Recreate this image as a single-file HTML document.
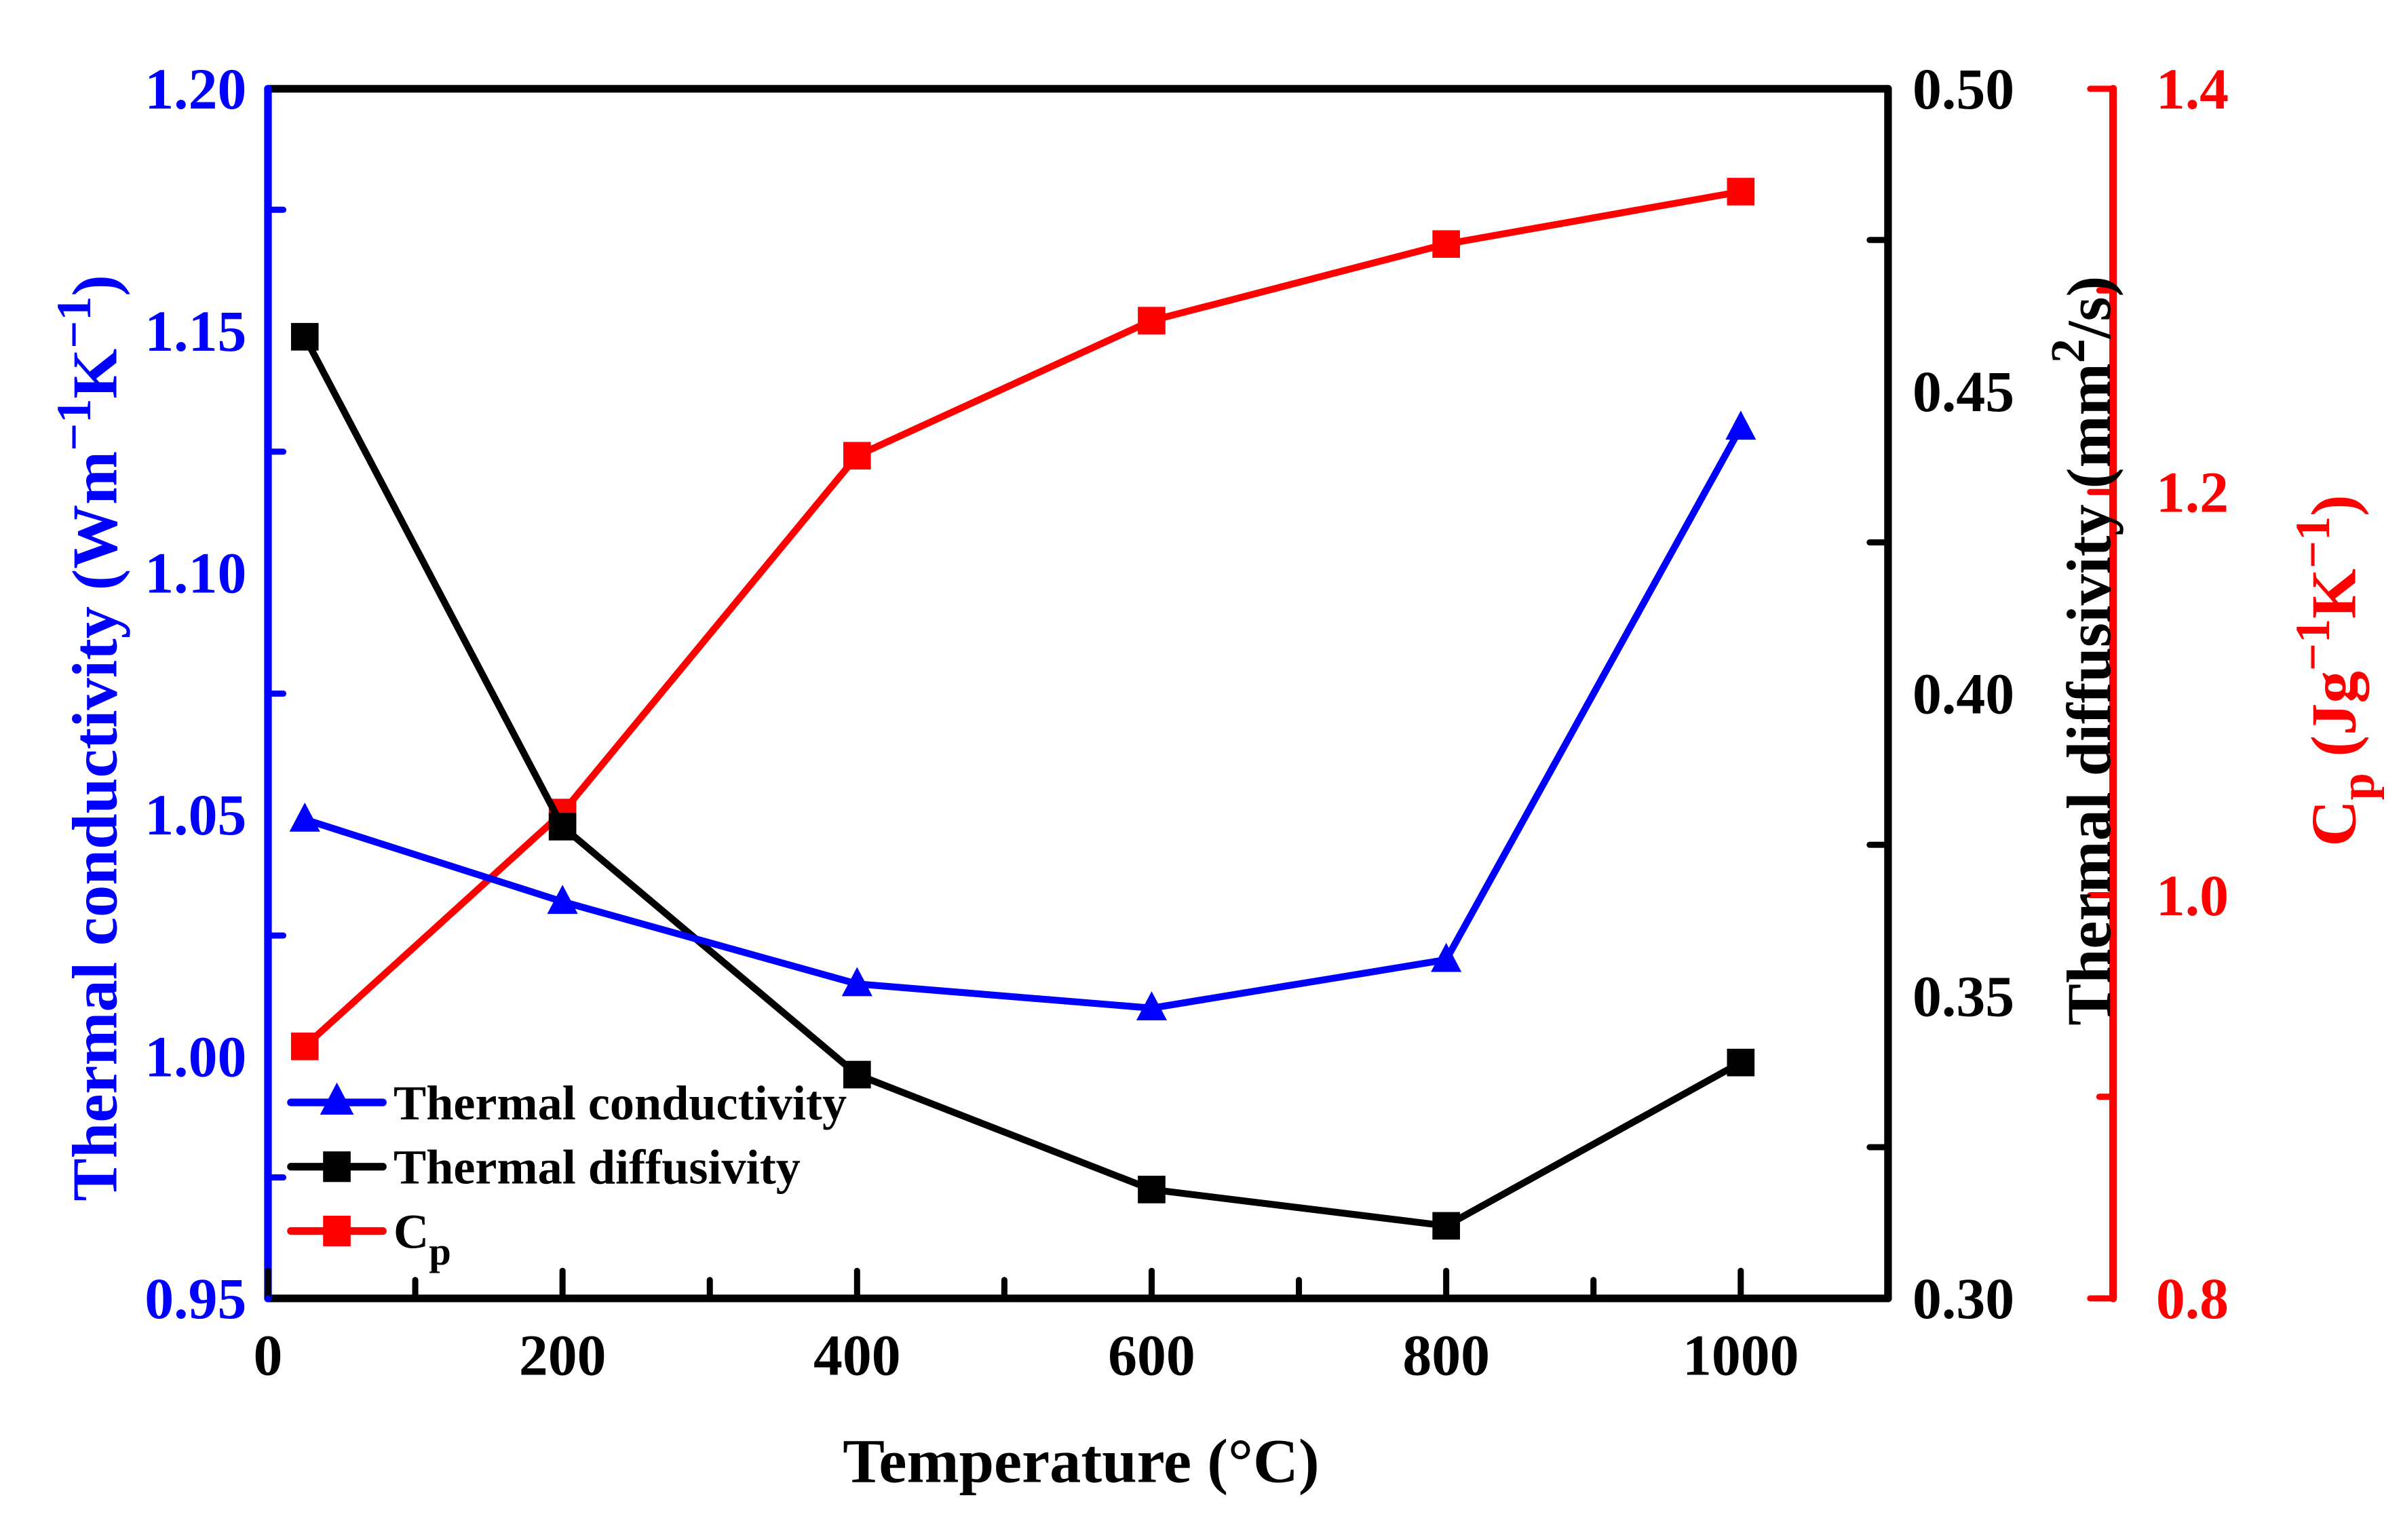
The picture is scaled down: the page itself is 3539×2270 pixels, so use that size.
<!DOCTYPE html>
<html><head><meta charset="utf-8"><style>
html,body{margin:0;padding:0;background:#fff;}
svg{display:block;}
text{font-family:"Liberation Serif",serif;font-weight:bold;}
</style></head><body>
<svg id="chart" width="3539" height="2270" viewBox="0 0 1568 1005.8" preserveAspectRatio="none" xmlns="http://www.w3.org/2000/svg">
<g id="axes"></g>
<g id="series"></g>
<g id="legend"></g>
</svg>
<script>
const temps = [25, 200, 400, 600, 800, 1000];
const conductivity = [1.049, 1.032, 1.015, 1.010, 1.020, 1.130];
const diffusivity = [0.459, 0.378, 0.337, 0.318, 0.312, 0.339];
const cp = [0.925, 1.041, 1.218, 1.285, 1.323, 1.349];
const xTicks = ["0", "200", "400", "600", "800", "1000"];
const leftTicks = ["0.95", "1.00", "1.05", "1.10", "1.15", "1.20"];
const rightTicks = ["0.30", "0.35", "0.40", "0.45", "0.50"];
const redTicks = ["0.8", "1.0", "1.2", "1.4"];

const L=175, R=1233, T=58, B=848, RX=1380;
const sx = v => L + (v/1100)*(R-L);
const yL = v => B - (v-0.95)/0.25*(B-T);
const yR = v => B - (v-0.30)/0.20*(B-T);
const yC = v => B - (v-0.8)/0.6*(B-T);
const NS='http://www.w3.org/2000/svg';
function mk(tag, attrs, parent){const e=document.createElementNS(NS,tag);for(const k in attrs)e.setAttribute(k,attrs[k]);parent.appendChild(e);return e;}
const axes=document.getElementById('axes'), series=document.getElementById('series'), legend=document.getElementById('legend');
const FS=38;
let e;
e=mk('line',{x1:L,y1:T,x2:R,y2:T,stroke:'#000','stroke-width':5,'stroke-linecap':'round'},axes);


e=mk('line',{x1:L,y1:B,x2:R,y2:B,stroke:'#000','stroke-width':5,'stroke-linecap':'round'},axes);


e=mk('line',{x1:R,y1:T,x2:R,y2:B,stroke:'#000','stroke-width':5,'stroke-linecap':'round'},axes);


e=mk('line',{x1:L,y1:T,x2:L,y2:B,stroke:'#0000ff','stroke-width':5,'stroke-linecap':'round'},axes);


e=mk('line',{x1:RX,y1:T,x2:RX,y2:B,stroke:'#ff0000','stroke-width':5,'stroke-linecap':'round'},axes);



for(let v=0;v<=1000;v+=100){
  const major=v%200===0;
  e=mk('line',{x1:sx(v),y1:B,x2:sx(v),y2:B-(major?18:12),stroke:'#000','stroke-width':4,'stroke-linecap':'round'},axes);
  
  
}
xTicks.forEach(t=>{
  e=mk('text',{x:sx(+t),y:B+50,'font-size':FS,'text-anchor':'middle',fill:'#000'},axes);e.textContent=t;
  
  
});
for(let i=0;i<=10;i++){
  const v=0.95+i*0.025, major=i%2===0;
  e=mk('line',{x1:L,y1:yL(v),x2:L+(major?0:10),y2:yL(v),stroke:'#0000ff','stroke-width':4,'stroke-linecap':'round'},axes);
  
  
}
leftTicks.forEach(t=>{
  e=mk('text',{x:L-14,y:yL(+t)+13,'font-size':FS,'text-anchor':'end',fill:'#0000ff'},axes);e.textContent=t;
  
  
});
for(let i=0;i<=8;i++){
  const v=0.30+i*0.025, major=i%2===0;
  e=mk('line',{x1:R,y1:yR(v),x2:R-(major?0:12),y2:yR(v),stroke:'#000','stroke-width':4,'stroke-linecap':'round'},axes);
  
  
}
rightTicks.forEach(t=>{
  e=mk('text',{x:R+16,y:yR(+t)+13,'font-size':FS,'text-anchor':'start',fill:'#000'},axes);e.textContent=t;
  
  
});
for(let i=0;i<=6;i++){
  const v=0.8+i*0.1, major=i%2===0;
  e=mk('line',{x1:RX,y1:yC(v),x2:RX-(major?15:9),y2:yC(v),stroke:'#ff0000','stroke-width':4,'stroke-linecap':'round'},axes);
  
  
}
redTicks.forEach(t=>{
  e=mk('text',{x:RX+28,y:yC(+t)+13,'font-size':FS,'text-anchor':'start',fill:'#ff0000'},axes);e.textContent=t;
  
  
});

e=mk('text',{x:706,y:968,'font-size':41,'text-anchor':'middle',fill:'#000'},axes);
e.innerHTML='Temperature (°C)';


e=mk('text',{x:0,y:0,'font-size':42,'text-anchor':'middle',fill:'#0000ff',transform:'translate(76,482) rotate(-90)'},axes);
e.innerHTML='Thermal conductivity (Wm<tspan dy="-17" font-size="32">−1</tspan><tspan dy="17">K</tspan><tspan dy="-17" font-size="32">−1</tspan><tspan dy="17">)</tspan>';


e=mk('text',{x:0,y:0,'font-size':41,'text-anchor':'middle',fill:'#000',transform:'translate(1378,425) rotate(-90)'},axes);
e.innerHTML='Thermal diffusivity (mm<tspan dy="-17" font-size="32">2</tspan><tspan dy="17">/s)</tspan>';


e=mk('text',{x:0,y:0,'font-size':42,'text-anchor':'middle',fill:'#ff0000',transform:'translate(1538,438) rotate(-90)'},axes);
e.innerHTML='C<tspan dy="12" font-size="32">p</tspan><tspan dy="-12"> (Jg</tspan><tspan dy="-17" font-size="32">−1</tspan><tspan dy="17">K</tspan><tspan dy="-17" font-size="32">−1</tspan><tspan dy="17">)</tspan>';



function drawSeries(vals, yf, color, marker, name){
  const pts=temps.map((t,i)=>sx(t)+','+yf(vals[i])).join(' ');
  let p=mk('polyline',{points:pts,fill:'none',stroke:color,'stroke-width':4.5,'stroke-linejoin':'round'},series);
  
  
  temps.forEach((t,i)=>{
    const x=sx(t), y=yf(vals[i]);
    let m;
    if(marker==='tri') m=mk('polygon',{points:`${x},${y-11} ${x-10},${y+8} ${x+10},${y+8}`,fill:color},series);
    else m=mk('rect',{x:x-9,y:y-9,width:18,height:18,fill:color},series);
    
    
  });
}
drawSeries(cp, yC, '#ff0000', 'sq', 'cp');
drawSeries(diffusivity, yR, '#000', 'sq', 'diffusivity');
drawSeries(conductivity, yL, '#0000ff', 'tri', 'conductivity');

const leg=[['Thermal conductivity','#0000ff','tri',720],['Thermal diffusivity','#000','sq',762],['Cp','#ff0000','sq',804]];
leg.forEach(([lab,c,mkr,y])=>{
  let l=mk('line',{x1:190,y1:y,x2:250,y2:y,stroke:c,'stroke-width':5,'stroke-linecap':'round'},legend);
  
  
  let m;
  if(mkr==='tri') m=mk('polygon',{points:`220,${y-13} 209,${y+8} 231,${y+8}`,fill:c},legend);
  else m=mk('rect',{x:211,y:y-10,width:18,height:20,fill:c},legend);
  
  
  let t=mk('text',{x:257,y:y+11,'font-size':32,fill:'#000'},legend);
  if(lab==='Cp') t.innerHTML='C<tspan dy="11" font-size="26">p</tspan>'; else t.textContent=lab;
  
  
});
</script>
</body></html>
